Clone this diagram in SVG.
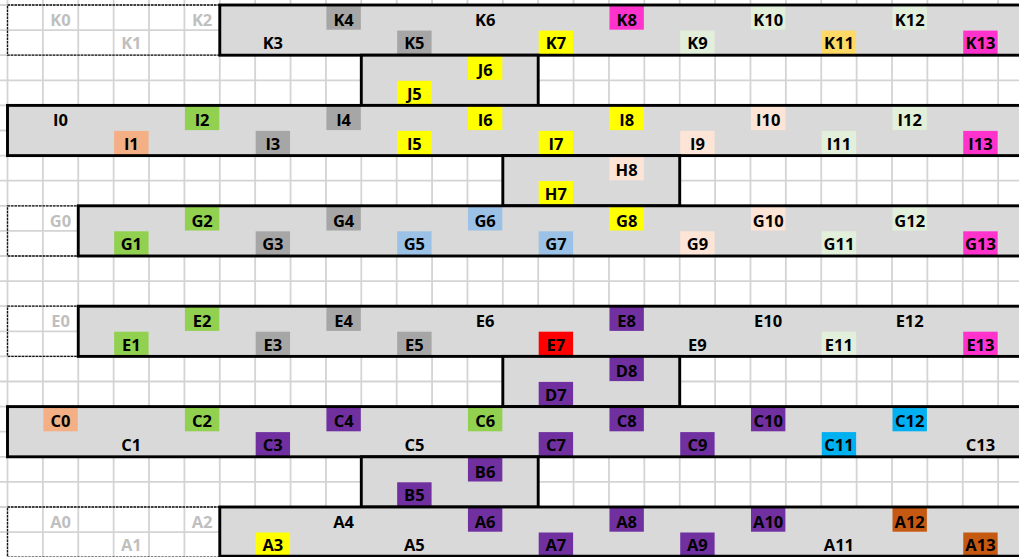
<svg xmlns="http://www.w3.org/2000/svg" width="1019" height="557" viewBox="0 0 1019 557">
<style>
text{font-family:"Open Sans","Liberation Sans",sans-serif;font-weight:700;font-size:16.5px;text-anchor:middle;fill:#000}
text.lt{fill:#bfbfbf}
.grid{stroke:#d4d4d4;stroke-width:1.8;fill:none}
.band{fill:#d9d9d9;stroke:none}
.bd{fill:none;stroke:#000;stroke-width:2.9}
.dash{fill:none;stroke:#111;stroke-width:1.3;stroke-dasharray:2.5 1}
.gy{fill:#a6a6a6}.ye{fill:#ffff00}.mg{fill:#ff33cc}.lg{fill:#e2efda}.or{fill:#ffd966}
.sa{fill:#f4b084}.gn{fill:#92d050}.pe{fill:#fce4d6}.bl{fill:#9bc2e6}.rd{fill:#ff0000}
.pu{fill:#7030a0}.cy{fill:#00b0f0}.br{fill:#c65911}
</style>
<rect x="0" y="0" width="1019" height="557" fill="#fff"/>
<g id="grid">
<path class="grid" d="M7.5 0V557M42.88 0V557M78.26 0V557M113.64 0V557M149.02 0V557M184.4 0V557M219.78 0V557M255.16 0V557M290.54 0V557M325.92 0V557M361.3 0V557M396.68 0V557M432.06 0V557M467.44 0V557M502.82 0V557M538.2 0V557M573.58 0V557M608.96 0V557M644.34 0V557M679.72 0V557M715.1 0V557M750.48 0V557M785.86 0V557M821.24 0V557M856.62 0V557M892 0V557M927.38 0V557M962.76 0V557M998.14 0V557"/>
<path class="grid" d="M0 5H1019M0 30.1H1019M0 55.2H1019M0 80.3H1019M0 105.4H1019M0 130.5H1019M0 155.6H1019M0 180.7H1019M0 205.8H1019M0 230.9H1019M0 256H1019M0 281.1H1019M0 306.2H1019M0 331.3H1019M0 356.4H1019M0 381.5H1019M0 406.6H1019M0 431.7H1019M0 456.8H1019M0 481.9H1019M0 507H1019M0 532.1H1019"/>
</g>
<g id="connectors"/>

<g id="K">
<rect class="dash" x="7.5" y="5" width="212.28" height="50.2"/>
<rect class="band" x="219.78" y="5" width="820" height="50.2"/>
<g id="K0"><text class="lt" x="60.57" y="25.8">K0</text></g>
<g id="K1"><text class="lt" x="131.33" y="49.4">K1</text></g>
<g id="K2"><text class="lt" x="202.09" y="25.8">K2</text></g>
<g id="K3"><text x="272.85" y="49.4">K3</text></g>
<g id="K4"><rect class="gy" x="326.42" y="5.5" width="34.4" height="24.2"/><text x="343.61" y="25.8">K4</text></g>
<g id="K5"><rect class="gy" x="397.18" y="30.6" width="34.4" height="24.2"/><text x="414.37" y="49.4">K5</text></g>
<g id="K6"><text x="485.13" y="25.8">K6</text></g>
<g id="K7"><rect class="ye" x="538.7" y="30.6" width="34.4" height="24.2"/><text x="555.89" y="49.4">K7</text></g>
<g id="K8"><rect class="mg" x="609.46" y="5.5" width="34.4" height="24.2"/><text x="626.65" y="25.8">K8</text></g>
<g id="K9"><rect class="lg" x="680.22" y="30.6" width="34.4" height="24.2"/><text x="697.41" y="49.4">K9</text></g>
<g id="K10"><rect class="lg" x="750.98" y="5.5" width="34.4" height="24.2"/><text x="768.17" y="25.8">K10</text></g>
<g id="K11"><rect class="or" x="821.74" y="30.6" width="34.4" height="24.2"/><text x="838.93" y="49.4">K11</text></g>
<g id="K12"><rect class="lg" x="892.5" y="5.5" width="34.4" height="24.2"/><text x="909.69" y="25.8">K12</text></g>
<g id="K13"><rect class="mg" x="963.26" y="30.6" width="34.4" height="24.2"/><text x="980.45" y="49.4">K13</text></g>
<rect class="bd" x="219.78" y="5" width="820" height="50.2"/>
</g>

<g id="J">
<rect class="band" x="361.3" y="55.2" width="176.9" height="50.2"/>
<g id="J5"><rect class="ye" x="397.18" y="80.8" width="34.4" height="24.2"/><text x="414.37" y="99.6">J5</text></g>
<g id="J6"><rect class="ye" x="467.94" y="55.7" width="34.4" height="24.2"/><text x="485.13" y="76">J6</text></g>
<rect class="bd" x="361.3" y="55.2" width="176.9" height="50.2"/>
</g>

<g id="I">
<rect class="band" x="7.5" y="105.4" width="1040" height="50.2"/>
<g id="I0"><text x="60.57" y="126.2">I0</text></g>
<g id="I1"><rect class="sa" x="114.14" y="130.9" width="34.4" height="24.2"/><text x="131.33" y="149.8">I1</text></g>
<g id="I2"><rect class="gn" x="184.9" y="105.9" width="34.4" height="24.2"/><text x="202.09" y="126.2">I2</text></g>
<g id="I3"><rect class="gy" x="255.66" y="130.9" width="34.4" height="24.2"/><text x="272.85" y="149.8">I3</text></g>
<g id="I4"><rect class="gy" x="326.42" y="105.9" width="34.4" height="24.2"/><text x="343.61" y="126.2">I4</text></g>
<g id="I5"><rect class="ye" x="397.18" y="130.9" width="34.4" height="24.2"/><text x="414.37" y="149.8">I5</text></g>
<g id="I6"><rect class="ye" x="467.94" y="105.9" width="34.4" height="24.2"/><text x="485.13" y="126.2">I6</text></g>
<g id="I7"><rect class="ye" x="538.7" y="130.9" width="34.4" height="24.2"/><text x="555.89" y="149.8">I7</text></g>
<g id="I8"><rect class="ye" x="609.46" y="105.9" width="34.4" height="24.2"/><text x="626.65" y="126.2">I8</text></g>
<g id="I9"><rect class="pe" x="680.22" y="130.9" width="34.4" height="24.2"/><text x="697.41" y="149.8">I9</text></g>
<g id="I10"><rect class="pe" x="750.98" y="105.9" width="34.4" height="24.2"/><text x="768.17" y="126.2">I10</text></g>
<g id="I11"><rect class="lg" x="821.74" y="130.9" width="34.4" height="24.2"/><text x="838.93" y="149.8">I11</text></g>
<g id="I12"><rect class="lg" x="892.5" y="105.9" width="34.4" height="24.2"/><text x="909.69" y="126.2">I12</text></g>
<g id="I13"><rect class="mg" x="963.26" y="130.9" width="34.4" height="24.2"/><text x="980.45" y="149.8">I13</text></g>
<rect class="bd" x="7.5" y="105.4" width="1040" height="50.2"/>
</g>

<g id="H">
<rect class="band" x="502.82" y="155.6" width="176.9" height="50.2"/>
<g id="H7"><rect class="ye" x="538.7" y="181.1" width="34.4" height="24.2"/><text x="555.89" y="200">H7</text></g>
<g id="H8"><rect class="pe" x="609.46" y="156.1" width="34.4" height="24.2"/><text x="626.65" y="176.4">H8</text></g>
<rect class="bd" x="502.82" y="155.6" width="176.9" height="50.2"/>
</g>

<g id="G">
<rect class="dash" x="7.5" y="205.8" width="70.76" height="50.2"/>
<rect class="band" x="78.26" y="205.8" width="960" height="50.2"/>
<g id="G0"><text class="lt" x="60.57" y="226.6">G0</text></g>
<g id="G1"><rect class="gn" x="114.14" y="231.3" width="34.4" height="24.2"/><text x="131.33" y="250.2">G1</text></g>
<g id="G2"><rect class="gn" x="184.9" y="206.3" width="34.4" height="24.2"/><text x="202.09" y="226.6">G2</text></g>
<g id="G3"><rect class="gy" x="255.66" y="231.3" width="34.4" height="24.2"/><text x="272.85" y="250.2">G3</text></g>
<g id="G4"><rect class="gy" x="326.42" y="206.3" width="34.4" height="24.2"/><text x="343.61" y="226.6">G4</text></g>
<g id="G5"><rect class="bl" x="397.18" y="231.3" width="34.4" height="24.2"/><text x="414.37" y="250.2">G5</text></g>
<g id="G6"><rect class="bl" x="467.94" y="206.3" width="34.4" height="24.2"/><text x="485.13" y="226.6">G6</text></g>
<g id="G7"><rect class="bl" x="538.7" y="231.3" width="34.4" height="24.2"/><text x="555.89" y="250.2">G7</text></g>
<g id="G8"><rect class="ye" x="609.46" y="206.3" width="34.4" height="24.2"/><text x="626.65" y="226.6">G8</text></g>
<g id="G9"><rect class="pe" x="680.22" y="231.3" width="34.4" height="24.2"/><text x="697.41" y="250.2">G9</text></g>
<g id="G10"><rect class="pe" x="750.98" y="206.3" width="34.4" height="24.2"/><text x="768.17" y="226.6">G10</text></g>
<g id="G11"><rect class="lg" x="821.74" y="231.3" width="34.4" height="24.2"/><text x="838.93" y="250.2">G11</text></g>
<g id="G12"><rect class="lg" x="892.5" y="206.3" width="34.4" height="24.2"/><text x="909.69" y="226.6">G12</text></g>
<g id="G13"><rect class="mg" x="963.26" y="231.3" width="34.4" height="24.2"/><text x="980.45" y="250.2">G13</text></g>
<rect class="bd" x="78.26" y="205.8" width="960" height="50.2"/>
</g>

<g id="E">
<rect class="dash" x="7.5" y="306.2" width="70.76" height="50.2"/>
<rect class="band" x="78.26" y="306.2" width="960" height="50.2"/>
<g id="E0"><text class="lt" x="60.57" y="327">E0</text></g>
<g id="E1"><rect class="gn" x="114.14" y="331.7" width="34.4" height="24.2"/><text x="131.33" y="350.6">E1</text></g>
<g id="E2"><rect class="gn" x="184.9" y="306.7" width="34.4" height="24.2"/><text x="202.09" y="327">E2</text></g>
<g id="E3"><rect class="gy" x="255.66" y="331.7" width="34.4" height="24.2"/><text x="272.85" y="350.6">E3</text></g>
<g id="E4"><rect class="gy" x="326.42" y="306.7" width="34.4" height="24.2"/><text x="343.61" y="327">E4</text></g>
<g id="E5"><rect class="gy" x="397.18" y="331.7" width="34.4" height="24.2"/><text x="414.37" y="350.6">E5</text></g>
<g id="E6"><text x="485.13" y="327">E6</text></g>
<g id="E7"><rect class="rd" x="538.7" y="331.7" width="34.4" height="24.2"/><text x="555.89" y="350.6">E7</text></g>
<g id="E8"><rect class="pu" x="609.46" y="306.7" width="34.4" height="24.2"/><text x="626.65" y="327">E8</text></g>
<g id="E9"><text x="697.41" y="350.6">E9</text></g>
<g id="E10"><text x="768.17" y="327">E10</text></g>
<g id="E11"><rect class="lg" x="821.74" y="331.7" width="34.4" height="24.2"/><text x="838.93" y="350.6">E11</text></g>
<g id="E12"><text x="909.69" y="327">E12</text></g>
<g id="E13"><rect class="mg" x="963.26" y="331.7" width="34.4" height="24.2"/><text x="980.45" y="350.6">E13</text></g>
<rect class="bd" x="78.26" y="306.2" width="960" height="50.2"/>
</g>

<g id="D">
<rect class="band" x="502.82" y="356.4" width="176.9" height="50.2"/>
<g id="D7"><rect class="pu" x="538.7" y="381.9" width="34.4" height="24.2"/><text x="555.89" y="400.8">D7</text></g>
<g id="D8"><rect class="pu" x="609.46" y="356.9" width="34.4" height="24.2"/><text x="626.65" y="377.2">D8</text></g>
<rect class="bd" x="502.82" y="356.4" width="176.9" height="50.2"/>
</g>

<g id="C">
<rect class="band" x="7.5" y="406.6" width="1040" height="50.2"/>
<g id="C0"><rect class="sa" x="43.38" y="407.1" width="34.4" height="24.2"/><text x="60.57" y="427.4">C0</text></g>
<g id="C1"><text x="131.33" y="451">C1</text></g>
<g id="C2"><rect class="gn" x="184.9" y="407.1" width="34.4" height="24.2"/><text x="202.09" y="427.4">C2</text></g>
<g id="C3"><rect class="pu" x="255.66" y="432.1" width="34.4" height="24.2"/><text x="272.85" y="451">C3</text></g>
<g id="C4"><rect class="pu" x="326.42" y="407.1" width="34.4" height="24.2"/><text x="343.61" y="427.4">C4</text></g>
<g id="C5"><text x="414.37" y="451">C5</text></g>
<g id="C6"><rect class="gn" x="467.94" y="407.1" width="34.4" height="24.2"/><text x="485.13" y="427.4">C6</text></g>
<g id="C7"><rect class="pu" x="538.7" y="432.1" width="34.4" height="24.2"/><text x="555.89" y="451">C7</text></g>
<g id="C8"><rect class="pu" x="609.46" y="407.1" width="34.4" height="24.2"/><text x="626.65" y="427.4">C8</text></g>
<g id="C9"><rect class="pu" x="680.22" y="432.1" width="34.4" height="24.2"/><text x="697.41" y="451">C9</text></g>
<g id="C10"><rect class="pu" x="750.98" y="407.1" width="34.4" height="24.2"/><text x="768.17" y="427.4">C10</text></g>
<g id="C11"><rect class="cy" x="821.74" y="432.1" width="34.4" height="24.2"/><text x="838.93" y="451">C11</text></g>
<g id="C12"><rect class="cy" x="892.5" y="407.1" width="34.4" height="24.2"/><text x="909.69" y="427.4">C12</text></g>
<g id="C13"><text x="980.45" y="451">C13</text></g>
<rect class="bd" x="7.5" y="406.6" width="1040" height="50.2"/>
</g>

<g id="B">
<rect class="band" x="361.3" y="456.8" width="176.9" height="50.2"/>
<g id="B5"><rect class="pu" x="397.18" y="482.3" width="34.4" height="24.2"/><text x="414.37" y="501.2">B5</text></g>
<g id="B6"><rect class="pu" x="467.94" y="457.3" width="34.4" height="24.2"/><text x="485.13" y="477.6">B6</text></g>
<rect class="bd" x="361.3" y="456.8" width="176.9" height="50.2"/>
</g>

<g id="A">
<rect class="dash" x="7.5" y="507" width="212.28" height="50.2"/>
<rect class="band" x="219.78" y="507" width="820" height="49.2"/>
<g id="A0"><text class="lt" x="60.57" y="527.8">A0</text></g>
<g id="A1"><text class="lt" x="131.33" y="551.4">A1</text></g>
<g id="A2"><text class="lt" x="202.09" y="527.8">A2</text></g>
<g id="A3"><rect class="ye" x="255.66" y="532.5" width="34.4" height="23.5"/><text x="272.85" y="551.4">A3</text></g>
<g id="A4"><text x="343.61" y="527.8">A4</text></g>
<g id="A5"><text x="414.37" y="551.4">A5</text></g>
<g id="A6"><rect class="pu" x="467.94" y="507.5" width="34.4" height="24.2"/><text x="485.13" y="527.8">A6</text></g>
<g id="A7"><rect class="pu" x="538.7" y="532.5" width="34.4" height="23.5"/><text x="555.89" y="551.4">A7</text></g>
<g id="A8"><rect class="pu" x="609.46" y="507.5" width="34.4" height="24.2"/><text x="626.65" y="527.8">A8</text></g>
<g id="A9"><rect class="pu" x="680.22" y="532.5" width="34.4" height="23.5"/><text x="697.41" y="551.4">A9</text></g>
<g id="A10"><rect class="pu" x="750.98" y="507.5" width="34.4" height="24.2"/><text x="768.17" y="527.8">A10</text></g>
<g id="A11"><text x="838.93" y="551.4">A11</text></g>
<g id="A12"><rect class="br" x="892.5" y="507.5" width="34.4" height="24.2"/><text x="909.69" y="527.8">A12</text></g>
<g id="A13"><rect class="br" x="963.26" y="532.5" width="34.4" height="23.5"/><text x="980.45" y="551.4">A13</text></g>
<rect class="bd" x="219.78" y="507" width="820" height="49.2"/>
</g>
</svg>
